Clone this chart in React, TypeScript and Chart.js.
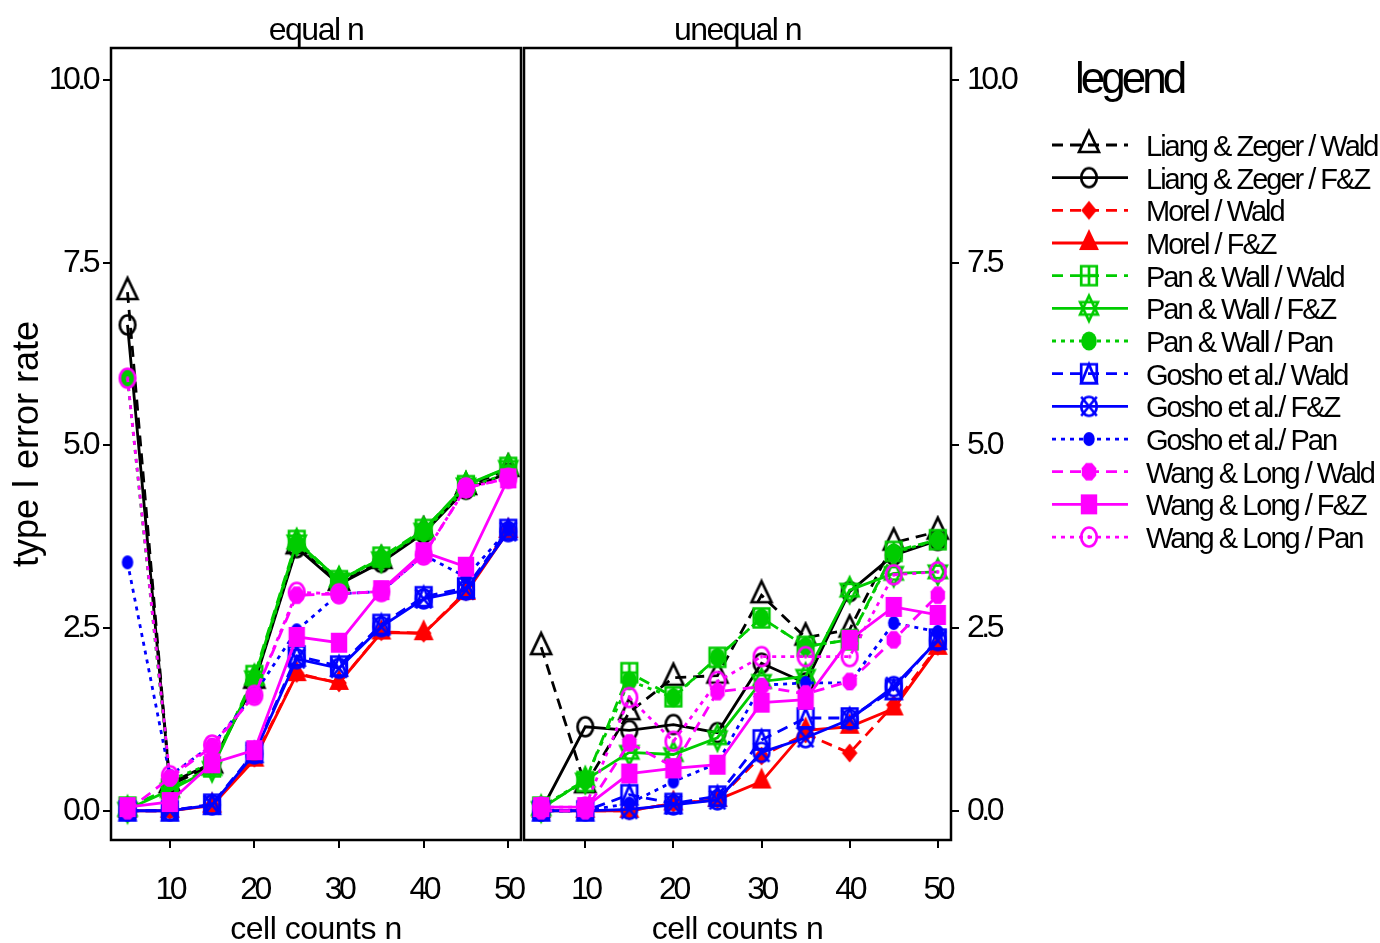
import React, { useEffect, useRef } from "react";
import { Chart, registerables } from "chart.js";
Chart.register(...registerables);

const FONT = '"Liberation Sans", Arial, Helvetica, sans-serif';

// ---- data ----
const xValues = [5, 10, 15, 20, 25, 30, 35, 40, 45, 50];
const xTicks = [10, 20, 30, 40, 50];
const yTicks = [0, 2.5, 5, 7.5, 10];
const panelTitles = ["equal n", "unequal n"];
const xTitle = "cell counts n";
const yTitle = "type I error rate";
const legendTitle = "legend";
const seriesNames = [
  "Liang & Zeger / Wald",
  "Liang & Zeger / F&Z",
  "Morel / Wald",
  "Morel / F&Z",
  "Pan & Wall / Wald",
  "Pan & Wall / F&Z",
  "Pan & Wall / Pan",
  "Gosho et al./ Wald",
  "Gosho et al./ F&Z",
  "Gosho et al./ Pan",
  "Wang & Long / Wald",
  "Wang & Long / F&Z",
  "Wang & Long / Pan",
];

// equal n
const eqLZWald = [7.1, 0.35, 0.62, 1.78, 3.62, 3.12, 3.42, 3.82, 4.43, 4.68];
const eqLZFZ = [6.65, 0.38, 0.65, 1.75, 3.6, 3.1, 3.4, 3.8, 4.4, 4.62];
const eqMorelWald = [0, 0, 0.08, 0.72, 1.88, 1.75, 2.45, 2.43, 3.0, 3.85];
const eqMorelFZ = [0, 0, 0.07, 0.7, 1.87, 1.75, 2.44, 2.43, 2.98, 3.83];
const eqPWWald = [0.05, 0.3, 0.6, 1.85, 3.7, 3.15, 3.47, 3.85, 4.45, 4.7];
const eqPWFZ = [0.02, 0.28, 0.58, 1.82, 3.68, 3.16, 3.45, 3.84, 4.46, 4.7];
const eqPWPan = [5.92, 0.42, 0.65, 1.8, 3.65, 3.15, 3.45, 3.82, 4.42, 4.62];
const eqGoshoWald = [0, 0, 0.09, 0.8, 2.12, 1.98, 2.55, 2.93, 3.05, 3.85];
const eqGoshoFZ = [0, 0, 0.08, 0.78, 2.08, 1.95, 2.52, 2.9, 3.02, 3.82];
const eqGoshoPan = [3.4, 0.48, 0.9, 1.6, 2.47, 2.97, 3.0, 3.5, 3.2, 3.85];
const eqWLWald = [0, 0.45, 0.88, 1.58, 2.95, 2.97, 3.0, 3.5, 4.42, 4.55];
const eqWLFZ = [0.05, 0.12, 0.65, 0.83, 2.38, 2.3, 3.02, 3.54, 3.34, 4.55];
const eqWLPan = [5.92, 0.48, 0.9, 1.58, 2.99, 2.97, 3.0, 3.5, 4.42, 4.55];

// unequal n
const unLZWald = [2.24, 0.35, 1.35, 1.82, 1.85, 2.95, 2.37, 2.48, 3.67, 3.82];
const unLZFZ = [0, 1.15, 1.1, 1.18, 1.07, 2.02, 1.75, 3.0, 3.5, 3.7];
const unMorelWald = [0, 0, 0, 0.1, 0.15, 0.75, 1.05, 0.79, 1.45, 2.25];
const unMorelFZ = [0, 0, 0, 0.1, 0.15, 0.4, 1.1, 1.15, 1.4, 2.23];
const unPWWald = [0.05, 0.4, 1.89, 1.56, 2.1, 2.64, 2.25, 2.34, 3.55, 3.71];
const unPWFZ = [0.03, 0.42, 0.8, 0.77, 1.0, 1.77, 1.84, 3.02, 3.25, 3.27];
const unPWPan = [0.05, 0.42, 1.78, 1.55, 2.1, 2.64, 2.25, 2.34, 3.53, 3.71];
const unGoshoWald = [0, 0, 0.22, 0.1, 0.2, 0.97, 1.27, 1.27, 1.66, 2.35];
const unGoshoFZ = [0, 0, 0.02, 0.08, 0.15, 0.8, 1.0, 1.25, 1.7, 2.33];
const unGoshoPan = [0, 0, 0.1, 0.4, 0.65, 1.72, 1.75, 1.75, 2.57, 2.45];
const unWLWald = [0, 0, 0.93, 0.6, 1.63, 1.7, 1.6, 1.77, 2.34, 2.95];
const unWLFZ = [0.05, 0.05, 0.51, 0.58, 0.63, 1.48, 1.52, 2.34, 2.79, 2.68];
const unWLPan = [0.05, 0.05, 1.55, 0.95, 1.77, 2.11, 2.11, 2.11, 3.23, 3.27];

const equalSeries = [eqLZWald, eqLZFZ, eqMorelWald, eqMorelFZ, eqPWWald, eqPWFZ, eqPWPan, eqGoshoWald, eqGoshoFZ, eqGoshoPan, eqWLWald, eqWLFZ, eqWLPan];
const unequalSeries = [unLZWald, unLZFZ, unMorelWald, unMorelFZ, unPWWald, unPWFZ, unPWPan, unGoshoWald, unGoshoFZ, unGoshoPan, unWLWald, unWLFZ, unWLPan];

// ---- styles ----
const BLACK = "#000000", RED = "#ff0000", GREEN = "#00cc00", BLUE = "#0000ff", MAG = "#ff00ff";
const DASH = [11, 7], DOT = [4, 5], SOLID: number[] = [];
const LINE_W = 2.8;
const seriesStyles = [
  { color: BLACK, dash: DASH, marker: "triOpen" },
  { color: BLACK, dash: SOLID, marker: "circle" },
  { color: RED, dash: DASH, marker: "diamond" },
  { color: RED, dash: SOLID, marker: "triFill" },
  { color: GREEN, dash: DASH, marker: "squarePlus" },
  { color: GREEN, dash: SOLID, marker: "star" },
  { color: GREEN, dash: DOT, marker: "dot" },
  { color: BLUE, dash: DASH, marker: "squareTri" },
  { color: BLUE, dash: SOLID, marker: "circleX" },
  { color: BLUE, dash: DOT, marker: "dotSmall" },
  { color: MAG, dash: DASH, marker: "octagon" },
  { color: MAG, dash: SOLID, marker: "squareFill" },
  { color: MAG, dash: DOT, marker: "circleDot" },
];

function makeMarker(kind: string, color: string): HTMLCanvasElement {
  const S = 34, c = S / 2, k = 0.82;
  const cv = document.createElement("canvas");
  cv.width = S;
  cv.height = S;
  const g = cv.getContext("2d")!;
  g.strokeStyle = color;
  g.fillStyle = color;
  g.lineWidth = 2.7;
  const P = (x: number, y: number): [number, number] => [c + x * k, c + y];
  const poly = (pts: [number, number][]) => {
    g.beginPath();
    pts.forEach(([x, y], i) => {
      const [px, py] = P(x, y);
      if (i) g.lineTo(px, py);
      else g.moveTo(px, py);
    });
    g.closePath();
  };
  const ell = (r: number) => {
    g.beginPath();
    g.ellipse(c, c, r * k, r, 0, 0, Math.PI * 2);
  };
  const seg = (x1: number, y1: number, x2: number, y2: number) => {
    g.beginPath();
    const a = P(x1, y1), b = P(x2, y2);
    g.moveTo(a[0], a[1]);
    g.lineTo(b[0], b[1]);
    g.stroke();
  };
  const tri = (r: number, up = true) => {
    const s = up ? 1 : -1;
    poly([[0, -r * s], [r * 0.866, r * 0.5 * s], [-r * 0.866, r * 0.5 * s]]);
  };
  const sq = (h: number) => poly([[-h, -h], [h, -h], [h, h], [-h, h]]);
  switch (kind) {
    case "triOpen": tri(14); g.stroke(); break;
    case "triFill": tri(14); g.fill(); break;
    case "circle": ell(9.5); g.stroke(); break;
    case "diamond": poly([[0, -9.5], [9.5, 0], [0, 9.5], [-9.5, 0]]); g.fill(); break;
    case "squarePlus": sq(9.5); g.stroke(); seg(0, -9.5, 0, 9.5); seg(-9.5, 0, 9.5, 0); break;
    case "star": tri(12.5); g.stroke(); tri(12.5, false); g.stroke(); break;
    case "dot": ell(9.5); g.fill(); break;
    case "squareTri": sq(9.5); g.stroke(); poly([[0, -9.5], [9.5, 9.5], [-9.5, 9.5]]); g.stroke(); break;
    case "circleX": ell(9.5); g.stroke(); seg(-9.5, -9.5, 9.5, 9.5); seg(9.5, -9.5, -9.5, 9.5); break;
    case "dotSmall": ell(7); g.fill(); break;
    case "octagon": {
      const pts: [number, number][] = [];
      for (let i = 0; i < 8; i++) {
        const a = Math.PI / 8 + (i * Math.PI) / 4;
        pts.push([Math.cos(a) * 9.5, Math.sin(a) * 9.5]);
      }
      poly(pts); g.fill(); break;
    }
    case "squareFill": sq(10); g.fill(); break;
    case "circleDot": ell(9.5); g.stroke(); ell(2); g.fill(); break;
  }
  return cv;
}

function panelConfig(series: number[][], side: "left" | "right", markers: HTMLCanvasElement[], plugin: any): any {
  const noPad = (s: any) => {
    s.paddingLeft = 0;
    s.paddingRight = 0;
    s.paddingTop = 0;
    s.paddingBottom = 0;
  };
  return {
    type: "line",
    data: {
      datasets: series.map((arr, i) => ({
        label: seriesNames[i],
        data: xValues.map((x, j) => ({ x, y: arr[j] })),
        borderColor: seriesStyles[i].color,
        backgroundColor: seriesStyles[i].color,
        borderWidth: LINE_W,
        borderDash: seriesStyles[i].dash,
        pointStyle: markers[i],
        pointRadius: 8,
        pointHoverRadius: 8,
        pointBorderWidth: 0,
        tension: 0,
        fill: false,
        clip: false,
        order: -i,
      })),
    },
    options: {
      responsive: false,
      animation: false,
      events: [],
      layout: {
        autoPadding: false,
        padding: side === "left" ? { left: 0, right: 19, top: 48, bottom: 0 } : { left: 2, right: 339, top: 48, bottom: 0 },
      },
      plugins: { legend: { display: false }, tooltip: { enabled: false }, title: { display: false } },
      scales: {
        x: {
          type: "linear",
          bounds: "data",
          min: 3.05,
          max: 51.5,
          afterBuildTicks: (s: any) => { s.ticks = xTicks.map((v) => ({ value: v })); },
          afterFit: (s: any) => { s.height = 103; noPad(s); },
          grid: { display: true, drawOnChartArea: false, drawTicks: true, tickLength: 8, color: "#000", lineWidth: 2 },
          border: { display: false },
          ticks: { color: "#000", font: { size: 32, family: FONT }, padding: 23, maxRotation: 0, autoSkip: false, callback: (v: any) => String(v) },
        },
        y: {
          type: "linear",
          position: side,
          bounds: "data",
          min: -0.4,
          max: 10.44,
          afterBuildTicks: (s: any) => { s.ticks = yTicks.map((v) => ({ value: v })); },
          afterFit: (s: any) => { s.width = side === "left" ? 111 : 90; noPad(s); },
          grid: { display: true, drawOnChartArea: false, drawTicks: true, tickLength: 8, color: "#000", lineWidth: 2 },
          border: { display: false },
          ticks: { color: "#000", font: { size: 32, family: FONT }, padding: side === "left" ? 6 : 8, autoSkip: false, callback: (v: any) => Number(v).toFixed(1) },
        },
      },
    },
    plugins: [plugin],
  };
}

function setSpacing(ctx: any, px: number) {
  ctx.letterSpacing = px + "px";
}

function drawFrameAndTitles(chart: any, title: string) {
  const { ctx, chartArea: a } = chart;
  ctx.save();
  ctx.setLineDash([]);
  ctx.lineWidth = 2.5;
  ctx.strokeStyle = "#000";
  ctx.strokeRect(a.left, a.top, a.right - a.left, a.bottom - a.top);
  ctx.fillStyle = "#000";
  ctx.textAlign = "center";
  ctx.textBaseline = "alphabetic";
  ctx.font = `32px ${FONT}`;
  setSpacing(ctx, -1.5);
  ctx.fillText(title, (a.left + a.right) / 2, 40);
  setSpacing(ctx, -0.5);
  ctx.fillText(xTitle, (a.left + a.right) / 2, 939);
  ctx.restore();
}

export default function App() {
  const leftRef = useRef<HTMLCanvasElement>(null);
  const rightRef = useRef<HTMLCanvasElement>(null);

  useEffect(() => {
    const markers = seriesStyles.map((s) => makeMarker(s.marker, s.color));

    const leftPlugin = {
      id: "leftDeco",
      beforeUpdate(chart: any) { setSpacing(chart.ctx, -3.5); },
      beforeDraw(chart: any) { setSpacing(chart.ctx, -3.5); },
      afterDraw(chart: any) {
        drawFrameAndTitles(chart, panelTitles[0]);
        const { ctx, chartArea: a } = chart;
        ctx.save();
        ctx.fillStyle = "#000";
        ctx.font = `36px ${FONT}`;
        setSpacing(ctx, 0);
        ctx.textAlign = "center";
        ctx.textBaseline = "alphabetic";
        ctx.translate(38, (a.top + a.bottom) / 2);
        ctx.rotate(-Math.PI / 2);
        ctx.fillText(yTitle, 0, 0);
        ctx.restore();
        setSpacing(ctx, -3.5);
      },
    };

    const rightPlugin = {
      id: "rightDeco",
      beforeUpdate(chart: any) { setSpacing(chart.ctx, -3.5); },
      beforeDraw(chart: any) { setSpacing(chart.ctx, -3.5); },
      afterDraw(chart: any) {
        drawFrameAndTitles(chart, panelTitles[1]);
        const { ctx } = chart;
        const off = 522;
        ctx.save();
        ctx.fillStyle = "#000";
        ctx.textAlign = "left";
        ctx.textBaseline = "alphabetic";
        ctx.font = `44px ${FONT}`;
        setSpacing(ctx, -4);
        ctx.fillText(legendTitle, 1075 - off, 93);
        ctx.font = `29px ${FONT}`;
        setSpacing(ctx, -2);
        seriesNames.forEach((name, i) => {
          const y = 145 + i * 32.67;
          const st = seriesStyles[i];
          ctx.strokeStyle = st.color;
          ctx.lineWidth = LINE_W;
          ctx.setLineDash(st.dash);
          ctx.beginPath();
          ctx.moveTo(1052 - off, y);
          ctx.lineTo(1128 - off, y);
          ctx.stroke();
          ctx.setLineDash([]);
          const m = markers[i];
          ctx.drawImage(m, 1089 - off - m.width / 2, y - m.height / 2);
          ctx.fillStyle = "#000";
          ctx.fillText(name, 1146 - off, y + 11);
        });
        ctx.restore();
        setSpacing(ctx, -3.5);
      },
    };

    const c1 = new Chart(leftRef.current!, panelConfig(equalSeries, "left", markers, leftPlugin));
    const c2 = new Chart(rightRef.current!, panelConfig(unequalSeries, "right", markers, rightPlugin));
    return () => {
      c1.destroy();
      c2.destroy();
    };
  }, []);

  return (
    <div style={{ position: "absolute", left: 0, top: 0, width: 1380, height: 943, background: "#fff", overflow: "hidden" }}>
      <canvas ref={leftRef} width={540} height={943} style={{ position: "absolute", left: 0, top: 0, width: 540, height: 943 }} />
      <canvas ref={rightRef} width={858} height={943} style={{ position: "absolute", left: 522, top: 0, width: 858, height: 943 }} />
    </div>
  );
}
